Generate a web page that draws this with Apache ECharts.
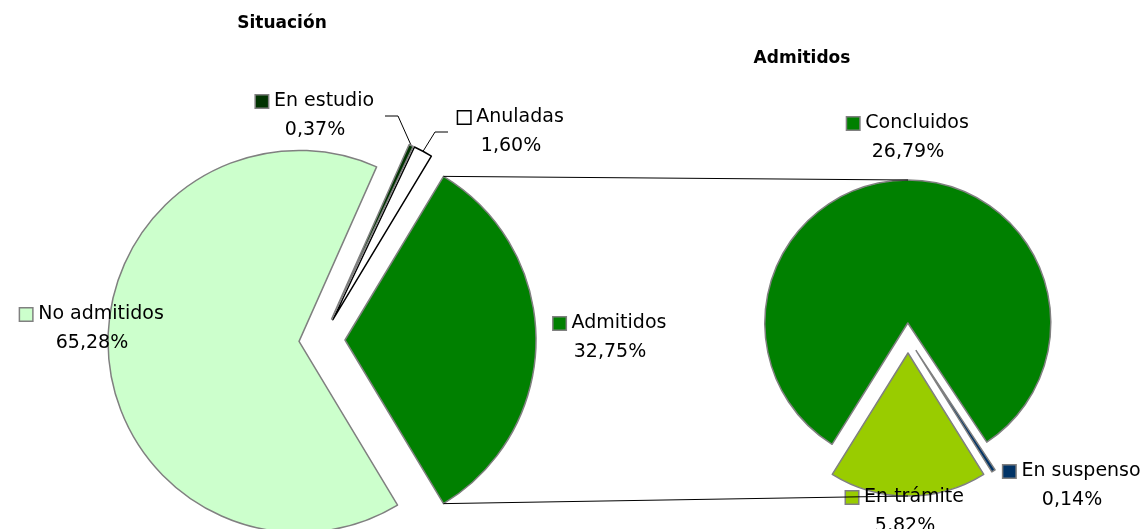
<!DOCTYPE html>
<html>
<head>
<meta charset="utf-8">
<script src="https://cdn.jsdelivr.net/npm/echarts@6/dist/echarts.min.js"></script>
<style>
  html, body { margin: 0; padding: 0; background: #fff; }
  #chart { width: 1142px; height: 529px; }
</style>
</head>
<body>
<div id="chart"></div>
<script>
// datos (orden de dibujo, sentido antihorario)
const situacionNombres = ['Admitidos', 'Anuladas', 'En estudio', 'No admitidos'];
const situacionValores = [32.75, 1.60, 0.37, 65.28];
const admitidosNombres = ['Concluidos', 'En trámite', 'En suspenso'];
const admitidosValores = [26.79, 5.82, 0.14];

// estilos
const situacionColores = ['#008000', '#ffffff', '#003300', '#ccffcc'];
const situacionBordes = ['#808080', '#000000', '#808080', '#808080'];
const admitidosColores = ['#008000', '#99cc00', '#003366'];
const admitidosBordes = ['#808080', '#808080', '#808080'];

// posiciones de etiquetas (centro del bloque)
const situacionEtiquetas = [[610, 338], [511, 132], [315, 116], [92, 329]];
const admitidosEtiquetas = [[908, 138], [905, 512], [1072, 486]];
// codos de las guías
const situacionGuias = [null, [[435, 132], [448, 132]], [[398, 116], [385, 116]], null];

const FONT = 'DejaVu Sans';
const izq = { cx: 322, cy: 340, r: 191, off: 23 };
const der = { cx: 908, cy: 338, r: 143, off: 15 };

const chart = echarts.init(document.getElementById('chart'));

const sum = a => a.reduce((s, v) => s + v, 0);
const pct = v => v.toFixed(2).replace('.', ',') + '%';

// un pie por sector, desplazado en la dirección de su ángulo medio (efecto "explotado")
function sectores(nombres, valores, colores, bordes, geo, startAngle, etiquetas, guias) {
  const tot = sum(valores);
  let acum = 0;
  return valores.map((val, k) => {
    const medio = (startAngle + (acum + val / 2) * 360 / tot) * Math.PI / 180;
    acum += val;
    const rich = {
      k: { width: 12, height: 12, backgroundColor: colores[k], borderColor: bordes[k], borderWidth: 1.5 },
      n: { fontFamily: FONT, fontSize: 19, color: '#000', align: 'center', lineHeight: 29 },
      v: { fontFamily: FONT, fontSize: 19, color: '#000', align: 'center', lineHeight: 29 }
    };
    return {
      type: 'pie',
      center: [geo.cx + geo.off * Math.cos(medio), geo.cy - geo.off * Math.sin(medio)],
      radius: [0, geo.r],
      startAngle: startAngle,
      clockwise: false,
      avoidLabelOverlap: false,
      animation: false,
      silent: true,
      emphasis: { disabled: true },
      label: {
        show: true,
        position: 'outside',
        formatter: p => '{k|}{n| ' + p.name + '}\n{v|' + pct(p.value) + '}',
        rich: rich
      },
      labelLine: { show: !!(guias && guias[k]), length: 5, length2: 5, smooth: false, lineStyle: { color: '#000', width: 1 } },
      labelLayout: p => {
        if (p.dataIndex !== k) return {};
        const res = { x: etiquetas[k][0], y: etiquetas[k][1], align: 'center', verticalAlign: 'middle' };
        if (guias && guias[k] && p.labelLinePoints) {
          res.labelLinePoints = [p.labelLinePoints[0], guias[k][0], guias[k][1]];
        }
        return res;
      },
      data: nombres.map((n, i) => i === k ? {
        name: n, value: valores[i],
        itemStyle: { color: colores[i], borderColor: bordes[i], borderWidth: 1.5 }
      } : {
        name: n, value: valores[i],
        itemStyle: { color: 'rgba(0,0,0,0)', borderWidth: 0 },
        label: { show: false }, labelLine: { show: false }
      })
    };
  });
}

// ángulos: el sector "Admitidos" centrado a la derecha, "En trámite" centrado abajo
const totIzq = sum(situacionValores);
const startIzq = 360 - 180 * situacionValores[0] / totIzq;
const totDer = sum(admitidosValores);
const startDer = 270 + 360 * (admitidosValores[1] / 2 + admitidosValores[2]) / totDer;

// líneas de unión entre ambos gráficos
const medio = 180 * situacionValores[0] / totIzq * Math.PI / 180;
const ax = izq.cx + izq.off + izq.r * Math.cos(medio);
const ayTop = izq.cy - izq.r * Math.sin(medio);
const ayBot = izq.cy + izq.r * Math.sin(medio);
const bx = der.cx;
const byTop = der.cy - der.off - der.r;
const byBot = der.cy + der.off + der.r;

chart.setOption({
  backgroundColor: '#fff',
  title: [
    { text: 'Situación', left: 282, top: 15, textAlign: 'center', padding: 0,
      textStyle: { fontFamily: FONT, fontSize: 17, fontWeight: 'bold', color: '#000' } },
    { text: 'Admitidos', left: 802, top: 50, textAlign: 'center', padding: 0,
      textStyle: { fontFamily: FONT, fontSize: 17, fontWeight: 'bold', color: '#000' } }
  ],
  graphic: [
    { type: 'line', z: 100, shape: { x1: ax, y1: ayTop, x2: bx, y2: byTop }, style: { stroke: '#000', lineWidth: 1 } },
    { type: 'line', z: 100, shape: { x1: ax, y1: ayBot, x2: bx, y2: byBot }, style: { stroke: '#000', lineWidth: 1 } }
  ],
  series: [].concat(
    sectores(situacionNombres, situacionValores, situacionColores, situacionBordes, izq, startIzq, situacionEtiquetas, situacionGuias),
    sectores(admitidosNombres, admitidosValores, admitidosColores, admitidosBordes, der, startDer, admitidosEtiquetas, null)
  )
});
</script>
</body>
</html>
